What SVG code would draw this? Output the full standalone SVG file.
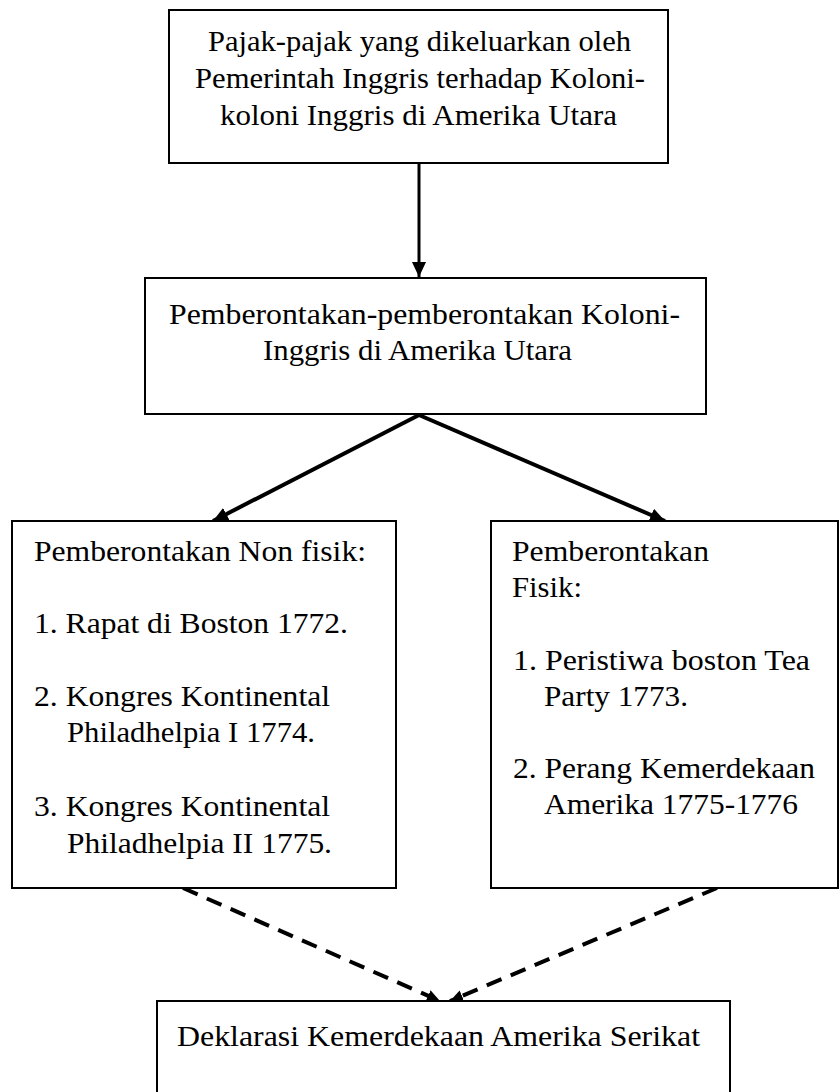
<svg xmlns="http://www.w3.org/2000/svg" width="840" height="1092" viewBox="0 0 840 1092">
<defs>
<style>
.box{fill:#fff;stroke:#000;stroke-width:2}
.solid{stroke:#000;fill:none}
.dash{stroke:#000;fill:none;stroke-width:4;stroke-dasharray:16 10}
</style>
<marker id="ah" markerUnits="userSpaceOnUse" markerWidth="16" markerHeight="16" viewBox="0 0 16 16" refX="15" refY="8" orient="auto">
<path d="M0,1 L15,8 L0,15 Z" fill="#000"/>
</marker>
<marker id="ahs" markerUnits="userSpaceOnUse" markerWidth="14" markerHeight="14" viewBox="0 0 14 14" refX="13" refY="7" orient="auto">
<path d="M0,1 L13,7 L0,13 Z" fill="#000"/>
</marker>
</defs>
<rect width="840" height="1092" fill="#fff"/>
<g id="connectors">
<line class="solid" x1="419" y1="163" x2="419" y2="277" stroke-width="3" marker-end="url(#ah)"/>
<line class="solid" x1="419" y1="415" x2="213" y2="521" stroke-width="4" marker-end="url(#ah)"/>
<line class="solid" x1="419" y1="415" x2="665" y2="521" stroke-width="4" marker-end="url(#ah)"/>
<line class="dash" x1="183" y1="888" x2="440" y2="1001" marker-end="url(#ahs)"/>
<line class="dash" x1="717" y1="888" x2="450" y2="1001" marker-end="url(#ahs)"/>
</g>
<g font-family="Liberation Serif" font-size="29.5" fill="#000" lengthAdjust="spacingAndGlyphs">
<g id="node-pajak">
<rect class="box" x="169" y="10" width="499" height="153"/>
<text x="208" y="51" textLength="423" lengthAdjust="spacingAndGlyphs">Pajak-pajak yang dikeluarkan oleh</text>
<text x="195" y="88" textLength="450" lengthAdjust="spacingAndGlyphs">Pemerintah Inggris terhadap Koloni-</text>
<text x="220" y="125" textLength="397" lengthAdjust="spacingAndGlyphs">koloni Inggris di Amerika Utara</text>
</g>
<g id="node-pemberontakan">
<rect class="box" x="145" y="278" width="561" height="136"/>
<text x="169" y="324" textLength="511" lengthAdjust="spacingAndGlyphs">Pemberontakan-pemberontakan Koloni-</text>
<text x="263" y="360" textLength="309" lengthAdjust="spacingAndGlyphs">Inggris di Amerika Utara</text>
</g>
<g id="node-nonfisik">
<rect class="box" x="12" y="521" width="384" height="367"/>
<text x="34" y="561" textLength="332" lengthAdjust="spacingAndGlyphs">Pemberontakan Non fisik:</text>
<text x="34" y="633" textLength="314" lengthAdjust="spacingAndGlyphs">1. Rapat di Boston 1772.</text>
<text x="34" y="706" textLength="296" lengthAdjust="spacingAndGlyphs">2. Kongres Kontinental</text>
<text x="67" y="742" textLength="248" lengthAdjust="spacingAndGlyphs">Philadhelpia I 1774.</text>
<text x="34" y="816" textLength="296" lengthAdjust="spacingAndGlyphs">3. Kongres Kontinental</text>
<text x="67" y="853" textLength="265" lengthAdjust="spacingAndGlyphs">Philadhelpia II 1775.</text>
</g>
<g id="node-fisik">
<rect class="box" x="491" y="521" width="347" height="367"/>
<text x="512" y="561" textLength="197" lengthAdjust="spacingAndGlyphs">Pemberontakan</text>
<text x="512" y="597" textLength="70" lengthAdjust="spacingAndGlyphs">Fisik:</text>
<text x="513" y="670" textLength="297" lengthAdjust="spacingAndGlyphs">1. Peristiwa boston Tea</text>
<text x="544" y="706" textLength="144" lengthAdjust="spacingAndGlyphs">Party 1773.</text>
<text x="513" y="778" textLength="302" lengthAdjust="spacingAndGlyphs">2. Perang Kemerdekaan</text>
<text x="544" y="814" textLength="254" lengthAdjust="spacingAndGlyphs">Amerika 1775-1776</text>
</g>
<g id="node-deklarasi">
<rect class="box" x="157" y="1001" width="573" height="100"/>
<text x="177" y="1046" textLength="523" lengthAdjust="spacingAndGlyphs">Deklarasi Kemerdekaan Amerika Serikat</text>
</g>
</g>
</svg>
